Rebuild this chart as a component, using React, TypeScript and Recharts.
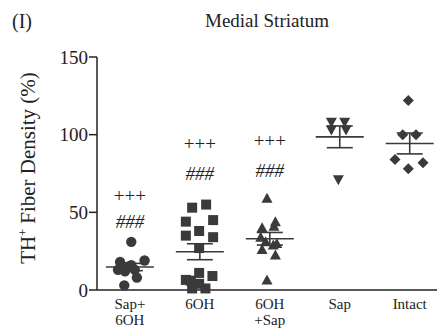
import React from "react";
import { ScatterChart, Scatter, XAxis, YAxis, ErrorBar, Customized } from "recharts";

// group labels (two-line ticks)
const categories = ["Sap+ 6OH", "6OH", "6OH +Sap", "Sap", "Intact"];
const tickLines = [["Sap+", "6OH"], ["6OH"], ["6OH", "+Sap"], ["Sap"], ["Intact"]];
const yTicks = [0, 50, 100, 150];

// individual animals, % of intact; jitter is horizontal spread in category units
const sap6ohValues = [31, 19, 18, 16, 15, 13, 13, 12, 8, 3];
const sap6ohJitter = [0.02, 0.21, -0.14, 0.02, -0.03, -0.17, 0.07, -0.07, 0.1, -0.08];

const ohdaValues = [53, 55, 44, 45, 38, 35, 34, 27, 11, 9, 6.5, 6, 4, 1, 1];
const ohdaJitter = [-0.11, 0.09, -0.2, 0.19, -0.01, -0.2, 0.19, -0.01, -0.01, 0.18, -0.2, -0.13, -0.01, -0.11, 0.08];

const ohdaSapValues = [59, 44, 41, 40, 34, 31, 30, 29, 26, 22.5, 6.5];
const ohdaSapJitter = [-0.04, 0.08, 0.06, -0.11, -0.13, -0.06, 0.1, 0.05, -0.11, 0.08, -0.04];

const sapValues = [108, 108, 103, 103, 71];
const sapJitter = [-0.12, 0.07, -0.12, 0.09, -0.02];

const intactValues = [122, 100, 100, 84, 82, 78];
const intactJitter = [-0.02, -0.1, 0.09, -0.21, 0.19, -0.02];

// significance marks above groups
const plusLevels = [61, 94, 96.5];
const hashLevels = [44, 75, 77];

const ink = "#3a3a3a";
const font = "'Liberation Serif', 'Times New Roman', serif";

const toPoints = (values: number[], jitter: number[], i: number) =>
  values.map((v, j) => ({ x: i + jitter[j], y: v }));

const groups = [
  toPoints(sap6ohValues, sap6ohJitter, 0),
  toPoints(ohdaValues, ohdaJitter, 1),
  toPoints(ohdaSapValues, ohdaSapJitter, 2),
  toPoints(sapValues, sapJitter, 3),
  toPoints(intactValues, intactJitter, 4),
];

const stats = [sap6ohValues, ohdaValues, ohdaSapValues, sapValues, intactValues].map((vals, i) => {
  const n = vals.length;
  const mean = vals.reduce((a, b) => a + b, 0) / n;
  const sd = Math.sqrt(vals.reduce((a, b) => a + (b - mean) ** 2, 0) / (n - 1));
  return { x: i, y: mean, sem: sd / Math.sqrt(n) };
});

const marks = [
  ...plusLevels.map((y, i) => ({ x: i, y, text: "+++", italic: false })),
  ...hashLevels.map((y, i) => ({ x: i, y, text: "###", italic: true })),
];

const Circle = (p: any) => <circle cx={p.cx} cy={p.cy} r={5.2} fill={ink} />;
const Square = (p: any) => <rect x={p.cx - 5} y={p.cy - 5} width={10} height={10} fill={ink} />;
const TriUp = (p: any) => (
  <polygon points={`${p.cx},${p.cy - 5.5} ${p.cx + 5.5},${p.cy + 4.5} ${p.cx - 5.5},${p.cy + 4.5}`} fill={ink} />
);
const TriDown = (p: any) => (
  <polygon points={`${p.cx},${p.cy + 5.5} ${p.cx + 5.5},${p.cy - 4.5} ${p.cx - 5.5},${p.cy - 4.5}`} fill={ink} />
);
const Diamond = (p: any) => (
  <polygon points={`${p.cx},${p.cy - 5.5} ${p.cx + 5.5},${p.cy} ${p.cx},${p.cy + 5.5} ${p.cx - 5.5},${p.cy}`} fill={ink} />
);
const shapes = [Circle, Square, TriUp, TriDown, Diamond];

const MeanLine = (p: any) => (
  <line x1={p.cx - 24} x2={p.cx + 24} y1={p.cy} y2={p.cy} stroke={ink} strokeWidth={1.6} />
);

const MarkText = (p: any) => (
  <text
    x={p.cx}
    y={p.cy}
    textAnchor="middle"
    dominantBaseline="central"
    style={{ fontFamily: font, fontSize: 19, fontStyle: p.payload?.italic ? "italic" : "normal" }}
    fill="#222"
  >
    {p.payload?.text}
  </text>
);

const XTick = (p: any) => {
  const lines = tickLines[p.payload.value] || [];
  return (
    <g>
      {lines.map((t, k) => (
        <text key={k} x={p.x} y={p.y + 19 + k * 15.5} textAnchor="middle" style={{ fontFamily: font, fontSize: 15 }} fill="#222">
          {t}
        </text>
      ))}
    </g>
  );
};

const YTick = (p: any) => (
  <text x={p.x} y={p.y} dy={6.5} textAnchor="end" style={{ fontFamily: font, fontSize: 19 }} fill="#222">
    {p.payload.value}
  </text>
);

const Decor = () => (
  <g style={{ fontFamily: font }} fill="#222">
    <text x={12} y={28} style={{ fontSize: 20 }}>(I)</text>
    <text x={267} y={27} style={{ fontSize: 19 }} textAnchor="middle">Medial Striatum</text>
    <text x={35} y={168} style={{ fontSize: 21 }} textAnchor="middle" transform="rotate(-90 35 168)">
      TH<tspan style={{ fontSize: 12 }} dy={-8}>+</tspan>
      <tspan dy={8}> Fiber Density (%)</tspan>
    </text>
  </g>
);

export default function App() {
  return (
    <div style={{ position: "absolute", left: 0, top: 0, background: "#fff", fontFamily: font }}>
      <ScatterChart width={437} height={332} margin={{ top: 57, right: 0, bottom: 0, left: 37 }}>
        <XAxis
          type="number"
          dataKey="x"
          domain={[-0.47, 4.39]}
          ticks={[0, 1, 2, 3, 4]}
          tick={<XTick />}
          tickLine={false}
          tickSize={0}
          tickMargin={0}
          height={42}
          allowDataOverflow
          axisLine={{ stroke: "#222", strokeWidth: 1.5 }}
        />
        <YAxis
          type="number"
          dataKey="y"
          domain={[0, 150]}
          ticks={yTicks}
          width={60}
          tickSize={8}
          tickMargin={1}
          tick={<YTick />}
          tickLine={{ stroke: "#222", strokeWidth: 1.5 }}
          axisLine={{ stroke: "#222", strokeWidth: 1.5 }}
        />
        {groups.map((data, i) => (
          <Scatter key={categories[i]} name={categories[i]} data={data} shape={shapes[i]} isAnimationActive={false} />
        ))}
        <Scatter name="mean" data={stats} shape={MeanLine} isAnimationActive={false}>
          <ErrorBar dataKey="sem" direction="y" width={13} stroke={ink} strokeWidth={1.6} />
        </Scatter>
        <Scatter name="marks" data={marks} shape={MarkText} isAnimationActive={false} />
        <Customized component={Decor} />
      </ScatterChart>
    </div>
  );
}
